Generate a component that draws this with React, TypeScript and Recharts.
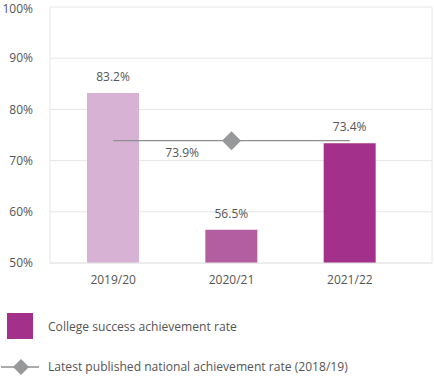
import { ComposedChart, Bar, Line, XAxis, YAxis, CartesianGrid, Cell, LabelList } from 'recharts'

const years = ['2019/20', '2020/21', '2021/22']
const collegeRate = [83.2, 56.5, 73.4]
const nationalRate = [73.9, 73.9, 73.9]
const barColors = ['#d8b2d5', '#b25ea1', '#a3308a']
const yTicks = [50, 60, 70, 80, 90, 100]

const data = years.map((year, i) => ({
  year,
  college: collegeRate[i],
  national: nationalRate[i],
}))

const FONT = '"Open Sans", sans-serif'
const TEXT = '#555555'
const LINE = '#8e8f91'
const DIAMOND = '#97989a'
const GRID = '#e6e6e6'

function Diamond({ cx, cy, r, fill }: { cx: number; cy: number; r: number; fill: string }) {
  return <path d={`M${cx},${cy - r} L${cx + r},${cy} L${cx},${cy + r} L${cx - r},${cy} Z`} fill={fill} />
}

function MidDot(props: any) {
  const { cx, cy, index } = props
  if (index !== 1) return <g key={`d${index}`} />
  return <Diamond key={`d${index}`} cx={cx} cy={cy} r={9.5} fill={DIAMOND} />
}

function NationalLabel(props: any) {
  const { x, y, index, value } = props
  if (index !== 0) return null
  return (
    <text x={x + 69} y={y + 16} textAnchor="middle" fontSize={12} fill={TEXT} fontFamily={FONT}>
      {`${value.toFixed(1)}%`}
    </text>
  )
}

export default function App() {
  return (
    <div style={{ position: 'absolute', left: 0, top: 0, width: 434, height: 377, background: '#fff', fontFamily: FONT }}>
      <ComposedChart width={434} height={300} data={data} margin={{ top: 7, right: 0, left: 0, bottom: 7 }}>
        <CartesianGrid stroke={GRID} vertical={false} />
        <XAxis
          dataKey="year"
          height={30}
          padding={{ left: 4, right: 23 }}
          axisLine={{ stroke: GRID }}
          tickLine={false}
          tickSize={0}
          tickMargin={12}
          tick={{ fontSize: 12, fill: TEXT, fontFamily: FONT }}
        />
        <YAxis
          width={50}
          domain={[50, 100]}
          ticks={yTicks}
          tickFormatter={(v: number) => `${v}%`}
          axisLine={{ stroke: GRID }}
          tickLine={false}
          tickSize={0}
          tickMargin={17}
          tick={{ fontSize: 12, fill: TEXT, fontFamily: FONT }}
        />
        <YAxis
          yAxisId="right"
          orientation="right"
          width={2}
          domain={[50, 100]}
          tick={false}
          tickLine={false}
          axisLine={{ stroke: GRID }}
        />
        <Bar dataKey="college" barSize={52} isAnimationActive={false}>
          {data.map((_, i) => (
            <Cell key={i} fill={barColors[i]} />
          ))}
          <LabelList
            dataKey="college"
            position="top"
            offset={12}
            formatter={(v: any) => `${Number(v).toFixed(1)}%`}
            style={{ fontSize: 12, fill: TEXT, fontFamily: FONT }}
          />
        </Bar>
        <Line
          dataKey="national"
          stroke={LINE}
          strokeWidth={1.3}
          dot={MidDot}
          activeDot={false}
          isAnimationActive={false}
        >
          <LabelList dataKey="national" content={NationalLabel} />
        </Line>
      </ComposedChart>
      <div style={{ position: 'absolute', left: 7, top: 313, width: 26, height: 26, background: '#a3308a' }} />
      <div style={{ position: 'absolute', left: 48, top: 318, fontSize: 12.1, color: TEXT, lineHeight: '18px' }}>
        College success achievement rate
      </div>
      <svg style={{ position: 'absolute', left: 0, top: 355 }} width={42} height={24}>
        <line x1={1} y1={12} x2={39} y2={12} stroke={LINE} strokeWidth={1.3} />
        <Diamond cx={21} cy={12} r={8} fill={DIAMOND} />
      </svg>
      <div style={{ position: 'absolute', left: 48, top: 358, fontSize: 12.1, color: TEXT, lineHeight: '18px' }}>
        Latest published national achievement rate (2018/19)
      </div>
    </div>
  )
}
